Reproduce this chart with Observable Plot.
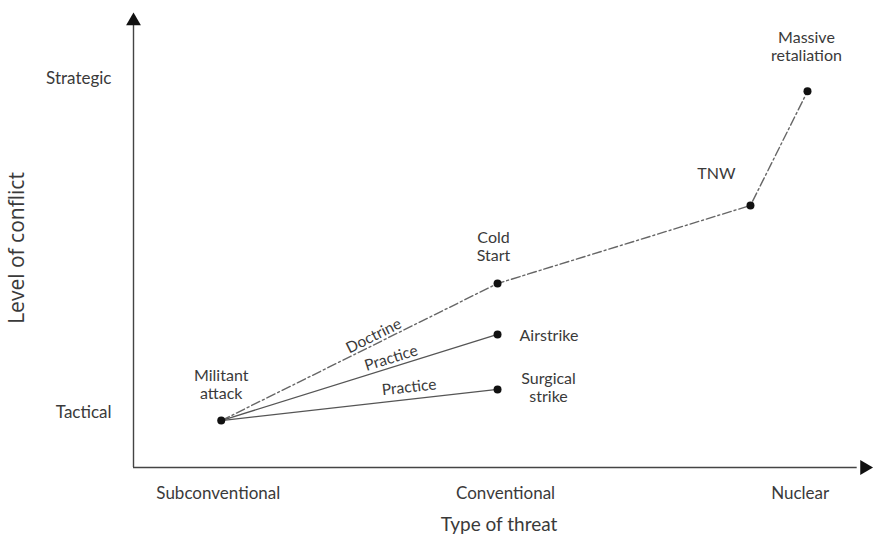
<!DOCTYPE html>
<html><head><meta charset="utf-8">
<script src="https://cdn.jsdelivr.net/npm/d3@7"></script>
<script src="https://cdn.jsdelivr.net/npm/@observablehq/plot@0.6"></script>
<style>body{margin:0;background:#fff}</style>
</head><body><div id="chart"></div>
<script>
// Tick labels and positions (data units)
const threatTypes = ["Subconventional", "Conventional", "Nuclear"];
const threatPos = [11.6, 50.9, 91.2];
const levelNames = ["Tactical", "Strategic"];
const levelPos = [12.2, 86.3];

// Nodes
const nodeNames = ["Militant\nattack", "Cold\nStart", "Airstrike", "Surgical\nstrike", "TNW", "Massive\nretaliation"];
const nodeX = [12.0, 49.8, 49.8, 49.8, 84.4, 92.2];
const nodeY = [10.4, 40.8, 29.5, 17.3, 58.1, 83.4];

// Paths (indices into nodes)
const doctrinePath = [0, 1, 4, 5];
const practiceLinks = [[0, 2], [0, 3]];
const linkLabels = ["Doctrine", "Practice", "Practice"];

const W = 876, H = 549;
const mL = 133, mR = 12, mT = 16, mB = 82;
const pxX = (W - mL - mR) / 100, pxY = (H - mT - mB) / 100;

const nodes = nodeNames.map((n, i) => ({name: n, x: nodeX[i], y: nodeY[i]}));
const doctrine = doctrinePath.map(i => nodes[i]);
const practice = practiceLinks.map(([a, b]) => ({x1: nodes[a].x, y1: nodes[a].y, x2: nodes[b].x, y2: nodes[b].y}));

// segment labels: along a segment at fraction t, offset perpendicular (px)
const segs = [
  {a: nodes[0], b: nodes[1], t: 0.565, off: 8},
  {a: nodes[0], b: nodes[2], t: 0.625, off: 9},
  {a: nodes[0], b: nodes[3], t: 0.685, off: 12}
];
const segLabels = segs.map((s, i) => {
  const dxp = (s.b.x - s.a.x) * pxX, dyp = -(s.b.y - s.a.y) * pxY;
  const ang = Math.atan2(dyp, dxp); // screen angle (negative = upward)
  return {
    text: linkLabels[i],
    x: s.a.x + s.t * (s.b.x - s.a.x),
    y: s.a.y + s.t * (s.b.y - s.a.y),
    rotate: ang * 180 / Math.PI,
    ox: Math.sin(ang) * s.off,
    oy: -Math.cos(ang) * s.off
  };
});

const font = "Lato, 'Open Sans', sans-serif";
const txt = "#3a3a3a";

const linkLabelMarks = segLabels.map(d =>
  Plot.text([d], {x: "x", y: "y", text: "text", rotate: d.rotate, dx: d.ox, dy: d.oy, fontSize: 15.5, fill: txt})
);

const chart = Plot.plot({
  width: W, height: H,
  marginLeft: mL, marginRight: mR, marginTop: mT, marginBottom: mB,
  x: {domain: [0, 100]},
  y: {domain: [0, 100]},
  style: {fontFamily: font, fontSize: "17px", color: txt, background: "#fff"},
  marks: [
    Plot.axisX({ticks: threatPos, tickFormat: (d, i) => threatTypes[i], tickSize: 0, tickPadding: 19, fontSize: 17, label: null}),
    Plot.axisY({ticks: levelPos, tickFormat: (d, i) => levelNames[i], tickSize: 0, tickPadding: 22, fontSize: 17, label: null}),
    // axis lines with arrows
    Plot.ruleX([0], {y1: 0, y2: 98, stroke: "#444", strokeWidth: 1.4}),
    Plot.ruleY([0], {x1: 0, x2: 99, stroke: "#444", strokeWidth: 1.4}),
    Plot.dot([{x: 0, y: 99}], {x: "x", y: "y", symbol: "triangle", r: 5.5, fill: "#111", stroke: "none"}),
    Plot.dot([{x: 100, y: 0}], {x: "x", y: "y", symbol: "triangle", r: 5.5, fill: "#111", stroke: "none", rotate: 90}),
    // doctrine path
    Plot.line(doctrine, {x: "x", y: "y", stroke: "#666", strokeWidth: 1.4, strokeDasharray: "9,3,2,3"}),
    // practice links
    Plot.link(practice, {x1: "x1", y1: "y1", x2: "x2", y2: "y2", stroke: "#555", strokeWidth: 1.3}),
    Plot.dot(nodes, {x: "x", y: "y", r: 4, fill: "#111", stroke: "none"}),
    // link labels
    ...linkLabelMarks,
    // node labels
    Plot.text([nodes[0]], {x: "x", y: "y", text: "name", dy: -36, lineHeight: 1.1, fontSize: 16, fill: txt}),
    Plot.text([nodes[1]], {x: "x", y: "y", text: "name", dx: -4, dy: -37, lineHeight: 1.1, fontSize: 16, fill: txt}),
    Plot.text([nodes[2]], {x: "x", y: "y", text: "name", dx: 22, dy: 1, textAnchor: "start", fontSize: 16, fill: txt}),
    Plot.text([nodes[3]], {x: "x", y: "y", text: "name", dx: 51, dy: -2, lineHeight: 1.1, fontSize: 16, fill: txt}),
    Plot.text([nodes[4]], {x: "x", y: "y", text: "name", dx: -34, dy: -32, fontSize: 16, fill: txt}),
    Plot.text([nodes[5]], {x: "x", y: "y", text: "name", dx: -1, dy: -45, lineHeight: 1.1, fontSize: 16, fill: txt}),
    // axis titles
    Plot.text(["Type of threat"], {frameAnchor: "bottom", textAnchor: "middle", dx: 0, dy: 63, fontSize: 19, fill: txt}),
    Plot.text(["Level of conflict"], {frameAnchor: "left", textAnchor: "middle", rotate: -90, dx: -116, dy: 6, fontSize: 21, fill: txt, fontFamily: "'Open Sans', sans-serif"})
  ]
});
document.getElementById("chart").append(chart);
</script>
</body></html>
